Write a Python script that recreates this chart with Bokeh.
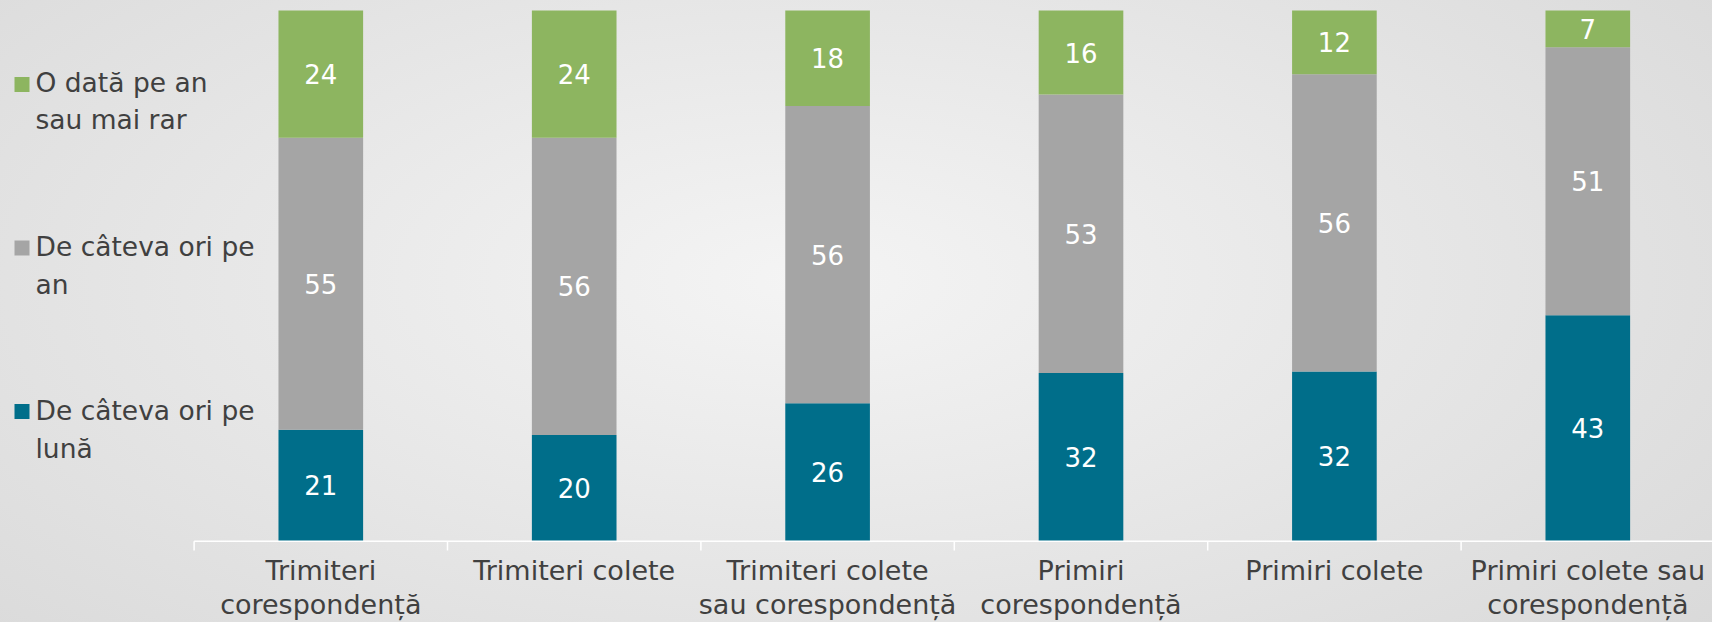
from bokeh.plotting import figure
from bokeh.models import Range1d, FixedTicker, ColumnDataSource, CustomJSTickFormatter
from bokeh.core.properties import value
from bokeh.embed import file_html
from bokeh.resources import INLINE

# ---- data ----
categories = ["Trimiteri\ncorespondență", "Trimiteri colete", "Trimiteri colete\nsau corespondență",
              "Primiri\ncorespondență", "Primiri colete", "Primiri colete sau\ncorespondență"]
series_names = ["De câteva ori pe lună", "De câteva ori pe an", "O dată pe an sau mai rar"]
legend_labels = ["De câteva ori pe\nlună", "De câteva ori pe\nan", "O dată pe an\nsau mai rar"]
luna = [21, 20, 26, 32, 32, 43]
an = [55, 56, 56, 53, 56, 51]
rar = [24, 24, 18, 16, 12, 7]
colors = ["#006E8A", "#A5A5A5", "#8DB560"]

FONT = "DejaVu Sans"
W, H = 1712, 622
n = len(categories)

# layout (pixels in figure space)
x0_px, step_px = 193.6, 253.4      # position of first category boundary, category width
y0_px, unit_px = 540.7, 5.307      # pixel of 0 %, pixels per percent
tick_end_px = 550.0                # end of the boundary ticks
bottom_px = 554.0                  # bottom of frame

def X(px):
    return (px - x0_px) / step_px

def Y(py):
    return (y0_px - py) / unit_px

p = figure(width=W, height=H, output_backend="svg", toolbar_location=None,
           x_range=Range1d(X(0), X(W)), y_range=Range1d(Y(bottom_px), Y(0)),
           min_border_left=0, min_border_right=0, min_border_top=0,
           min_border_bottom=int(H - bottom_px), y_axis_type=None)
p.outline_line_color = None
p.background_fill_alpha = 0
p.border_fill_alpha = 0
p.grid.visible = False
p.styles = {"background": "radial-gradient(ellipse 75% 95% at 47% 45%, #f4f4f4 0%, #e7e7e7 45%, #d7d7d7 100%)"}

# normalized stacking (100% stacked)
xs = [i + 0.5 for i in range(n)]
totals = [a + b + c for a, b, c in zip(luna, an, rar)]
raw = [luna, an, rar]
bottoms = [0.0] * n
for vals, col in zip(raw, colors):
    pct = [v / t * 100 for v, t in zip(vals, totals)]
    tops = [b + q for b, q in zip(bottoms, pct)]
    src = ColumnDataSource(dict(x=xs, bottom=bottoms, top=tops,
                                mid=[(b + t) / 2 for b, t in zip(bottoms, tops)],
                                lab=[str(v) for v in vals]))
    p.vbar(x="x", bottom="bottom", top="top", width=0.334, source=src,
           fill_color=col, line_color=None)
    p.text(x="x", y="mid", text="lab", source=src, text_color="white",
           text_font=value(FONT), text_font_size="26px",
           text_align="center", text_baseline="middle")
    bottoms = tops

# axis line & boundary ticks
p.segment(x0=[0], y0=[0], x1=[n], y1=[0], line_color="white", line_width=1.5)
p.segment(x0=list(range(n + 1)), y0=[0] * (n + 1), x1=list(range(n + 1)),
          y1=[Y(tick_end_px)] * (n + 1), line_color="white", line_width=1.5)

# category axis
ax = p.xaxis[0]
ax.ticker = FixedTicker(ticks=xs)
ax.formatter = CustomJSTickFormatter(args=dict(labels=categories),
                                     code="return labels[Math.floor(tick)];")
ax.axis_line_color = None
ax.major_tick_line_color = None
ax.minor_tick_line_color = None
ax.major_tick_out = 0
ax.major_tick_in = 0
ax.major_label_standoff = 0
ax.major_label_text_font = FONT
ax.major_label_text_font_size = "27px"
ax.major_label_text_color = "#404040"
ax.major_label_text_line_height = 1.1

# manual legend (top to bottom: rar, an, luna)
sq_y = [411, 247.5, 84]
txt_y = [429, 265, 100.5]
p.scatter(x=[X(21.5)] * 3, y=[Y(v) for v in sq_y], marker="square", size=15,
          fill_color=colors, line_color=None)
p.text(x=[X(35)] * 3, y=[Y(v) for v in txt_y], text=legend_labels,
       text_color="#404040", text_font=value(FONT), text_font_size="26.5px",
       text_align="left", text_baseline="middle", text_line_height=1.2)

open("out.html", "w").write(file_html(p, INLINE))
